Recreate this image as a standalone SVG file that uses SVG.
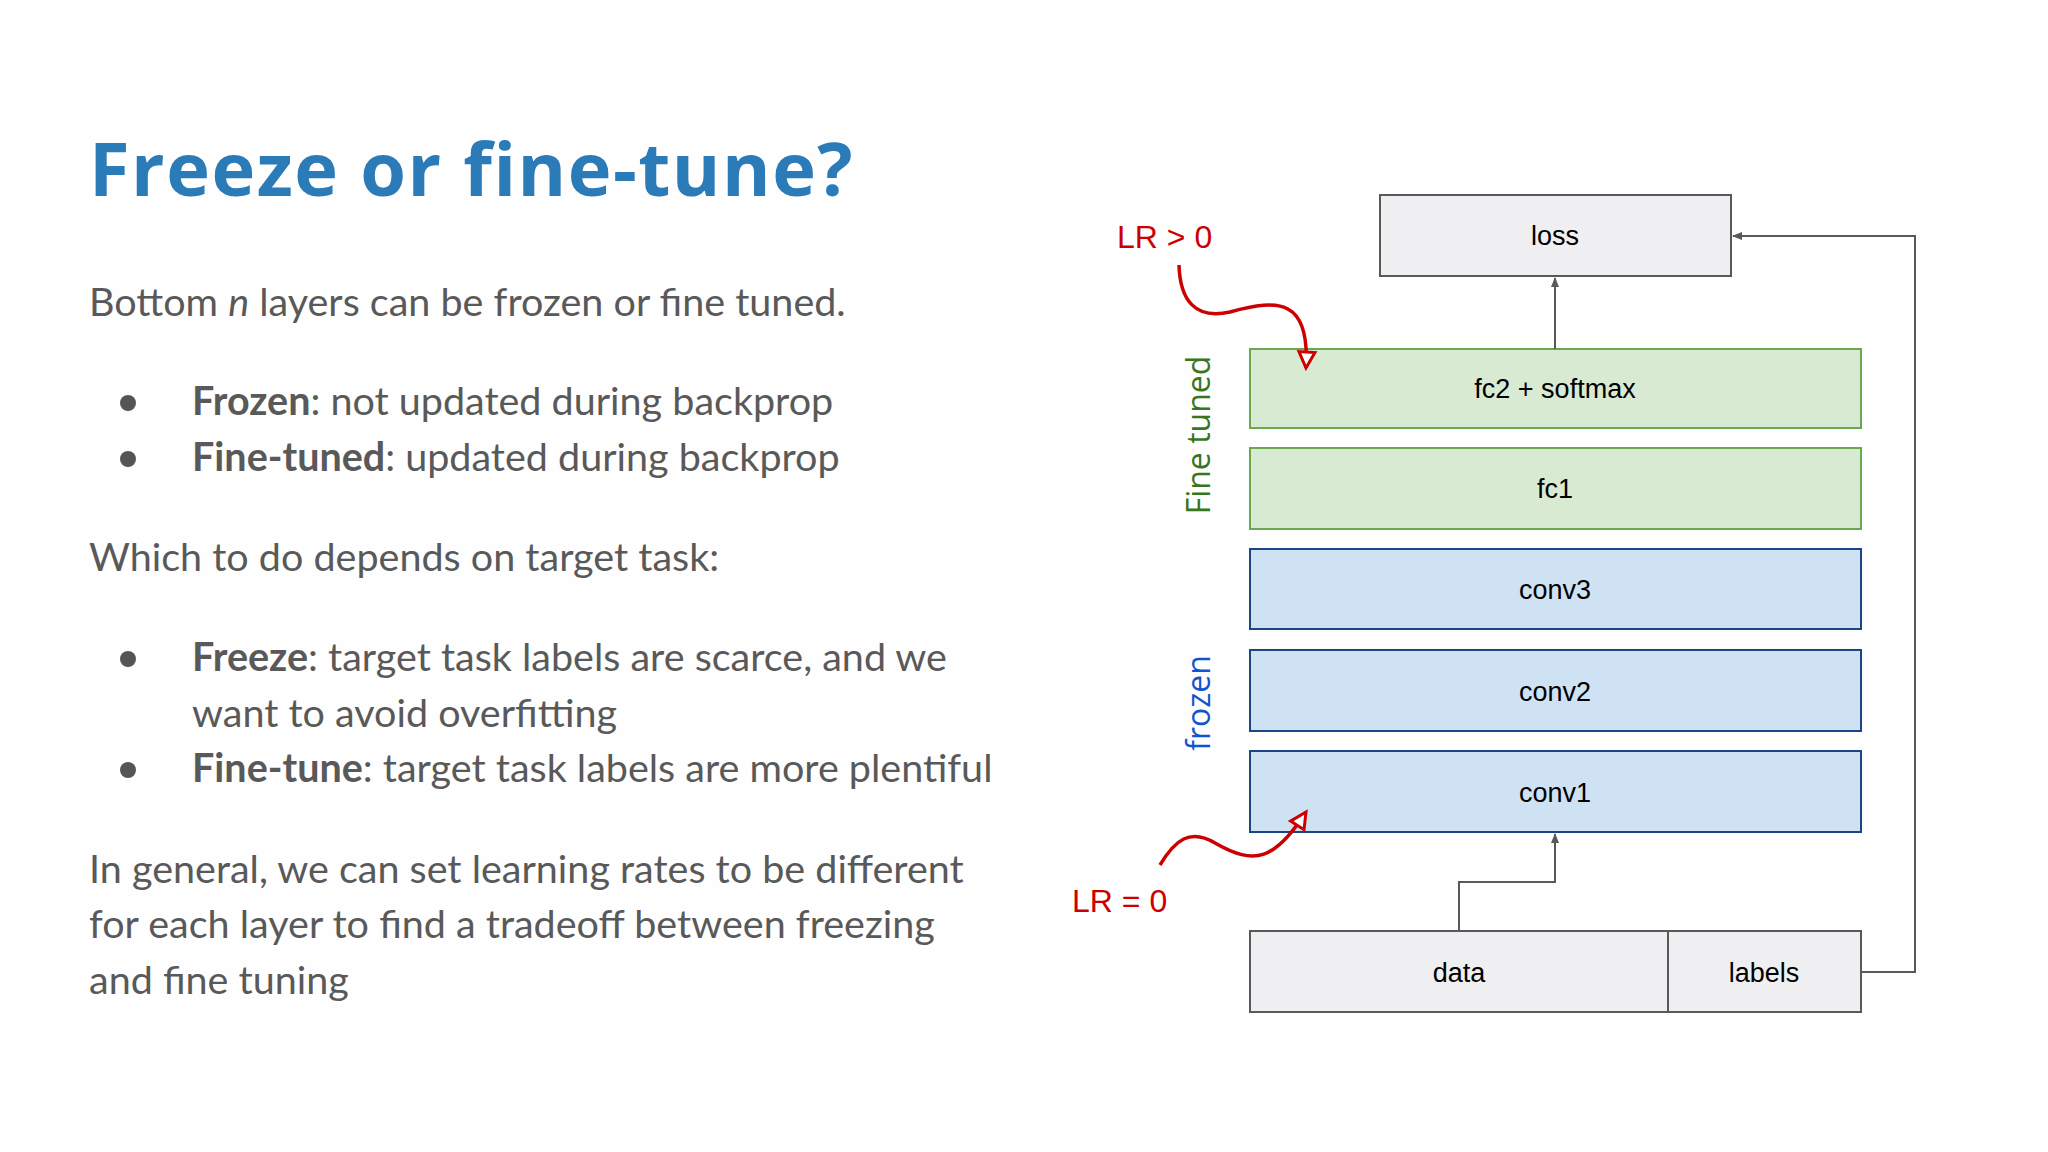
<svg xmlns="http://www.w3.org/2000/svg" width="2048" height="1152" viewBox="0 0 2048 1152">
<style>
.b{font-family:Lato,"Open Sans",sans-serif;font-size:39.5px;fill:#595959}
.bb{font-weight:bold}
.n{font-family:"Liberation Sans",Arial,sans-serif;font-size:27px;fill:#000;text-anchor:middle}
.g{fill:#efeff1;stroke:#595959;stroke-width:2}
.gr{fill:#d9ead3;stroke:#6aa84f;stroke-width:2}
.bl{fill:#cfe2f3;stroke:#1c4587;stroke-width:2}
.c{fill:none;stroke:#595959;stroke-width:2}
.r{fill:none;stroke:#cc0000;stroke-width:3.5}
.lr{font-family:"Liberation Sans",Arial,sans-serif;font-size:32px;fill:#cc0000}
</style>
<defs>
<marker id="a" markerWidth="10" markerHeight="10" refX="9" refY="5" orient="auto" markerUnits="userSpaceOnUse"><path d="M0,1 L10,5 L0,9 Z" fill="#595959"/></marker>
<marker id="ra" markerWidth="22" markerHeight="22" refX="18" refY="11" orient="auto" markerUnits="userSpaceOnUse"><path d="M2,3 L18,11 L2,19 Z" fill="#fff" stroke="#cc0000" stroke-width="3"/></marker>
</defs>
<rect width="2048" height="1152" fill="#fefefe"/>
<text x="89" y="196" font-family="'Open Sans',sans-serif" font-weight="bold" font-size="74" letter-spacing="1.5" fill="#2b7bb9">Freeze or fine-tune?</text>
<text class="b" x="89" y="316">Bottom <tspan font-style="italic">n</tspan> layers can be frozen or fine tuned.</text>
<circle cx="128" cy="403" r="8" fill="#555"/><circle cx="128" cy="459" r="8" fill="#555"/>
<text class="b" x="192" y="415"><tspan class="bb">Frozen</tspan>: not updated during backprop</text>
<text class="b" x="192" y="471"><tspan class="bb">Fine-tuned</tspan>: updated during backprop</text>
<text class="b" x="89" y="571">Which to do depends on target task:</text>
<circle cx="128" cy="659" r="8" fill="#555"/><circle cx="128" cy="770" r="8" fill="#555"/>
<text class="b" x="192" y="671"><tspan class="bb">Freeze</tspan>: target task labels are scarce, and we</text>
<text class="b" x="192" y="727">want to avoid overfitting</text>
<text class="b" x="192" y="782"><tspan class="bb">Fine-tune</tspan>: target task labels are more plentiful</text>
<text class="b" x="89" y="883">In general, we can set learning rates to be different</text>
<text class="b" x="89" y="938">for each layer to find a tradeoff between freezing</text>
<text class="b" x="89" y="994">and fine tuning</text>

<g id="loss"><rect class="g" x="1380" y="195" width="351" height="81"/><text class="n" x="1555" y="245">loss</text></g>
<g id="fc2"><rect class="gr" x="1250" y="349" width="611" height="79"/><text class="n" x="1555" y="398">fc2 + softmax</text></g>
<g id="fc1"><rect class="gr" x="1250" y="448" width="611" height="81"/><text class="n" x="1555" y="498">fc1</text></g>
<g id="conv3"><rect class="bl" x="1250" y="549" width="611" height="80"/><text class="n" x="1555" y="599">conv3</text></g>
<g id="conv2"><rect class="bl" x="1250" y="650" width="611" height="81"/><text class="n" x="1555" y="701">conv2</text></g>
<g id="conv1"><rect class="bl" x="1250" y="751" width="611" height="81"/><text class="n" x="1555" y="802">conv1</text></g>
<g id="data"><rect class="g" x="1250" y="931" width="418" height="81"/><text class="n" x="1459" y="982">data</text></g>
<g id="labels"><rect class="g" x="1668" y="931" width="193" height="81"/><text class="n" x="1764" y="982">labels</text></g>
<g id="connectors">
<path class="c" d="M1555,349 V278" marker-end="url(#a)"/>
<path class="c" d="M1459,931 V882 H1555 V834" marker-end="url(#a)"/>
<path class="c" d="M1861,972 H1915 V236 H1733" marker-end="url(#a)"/>
<path class="r" d="M1179,265 C1180,300 1195,320 1230,312 C1280,298 1310,300 1306,368" marker-end="url(#ra)"/>
<path class="r" d="M1160,865 C1175,840 1190,828 1215,843 C1255,866 1275,860 1306,812" marker-end="url(#ra)"/>
</g>
<text transform="translate(1210,435) rotate(-90)" text-anchor="middle" font-family="'Open Sans',sans-serif" font-size="32" fill="#38761d">Fine tuned</text>
<text transform="translate(1210,703) rotate(-90)" text-anchor="middle" font-family="'Open Sans',sans-serif" font-size="32" fill="#1155cc">frozen</text>
<text class="lr" x="1117" y="248">LR &gt; 0</text>
<text class="lr" x="1072" y="912">LR = 0</text>
</svg>
